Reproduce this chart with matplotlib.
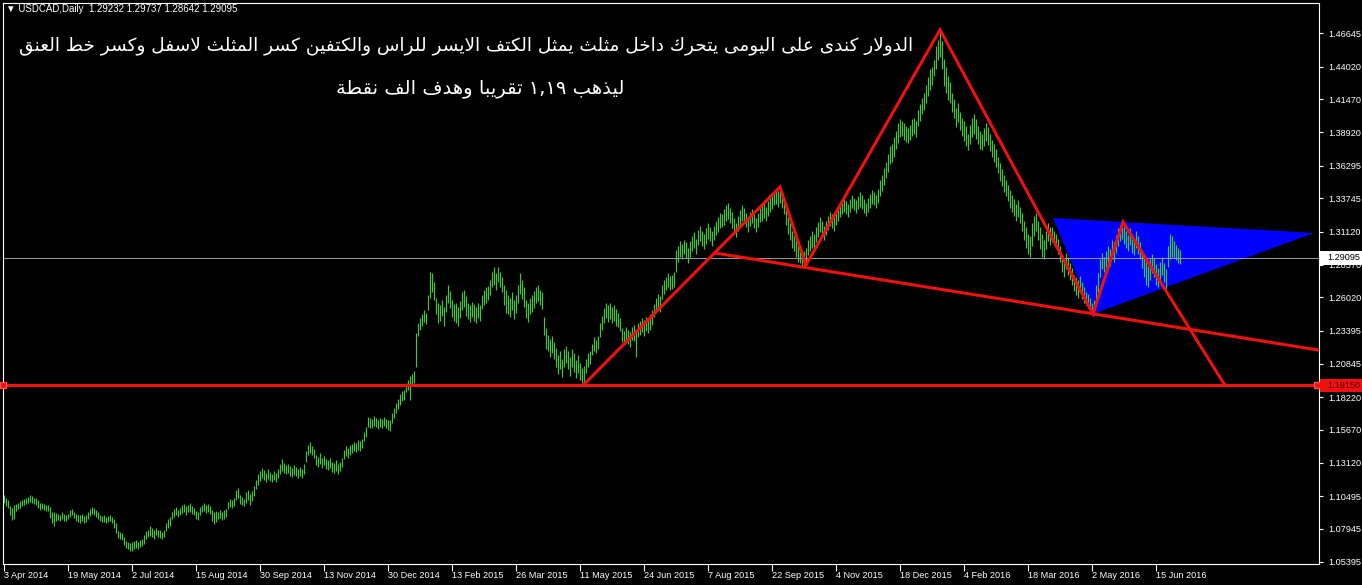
import numpy as np
import matplotlib
matplotlib.use("Agg")
import matplotlib.pyplot as plt
import matplotlib.transforms as mtransforms
from matplotlib.patches import Rectangle, Polygon

# daily bars (bar 0 = 3 Apr 2014), 10 bars per row
highs = [
  1.1056, 1.1033, 1.1018, 1.0970, 1.0955, 1.0978, 1.0990, 1.1000, 1.1010, 1.1020,
  1.1030, 1.1040, 1.1045, 1.1060, 1.1050, 1.1040, 1.1035, 1.1020, 1.0995, 1.1000,
  1.0990, 1.0985, 1.0980, 1.0965, 1.0925, 1.0930, 1.0920, 1.0915, 1.0905, 1.0925,
  1.0910, 1.0900, 1.0915, 1.0945, 1.0950, 1.0925, 1.0915, 1.0905, 1.0900, 1.0910,
  1.0895, 1.0905, 1.0925, 1.0950, 1.0965, 1.0955, 1.0940, 1.0925, 1.0905, 1.0895,
  1.0900, 1.0890, 1.0895, 1.0900, 1.0885, 1.0870, 1.0840, 1.0780, 1.0770, 1.0765,
  1.0730, 1.0700, 1.0695, 1.0685, 1.0690, 1.0700, 1.0705, 1.0690, 1.0710, 1.0715,
  1.0745, 1.0780, 1.0790, 1.0815, 1.0800, 1.0790, 1.0805, 1.0790, 1.0785, 1.0770,
  1.0790, 1.0840, 1.0870, 1.0885, 1.0930, 1.0950, 1.0965, 1.0945, 1.0960, 1.0980,
  1.0990, 1.0970, 1.0985, 1.0995, 1.0975, 1.0960, 1.0935, 1.0925, 1.0965, 1.0985,
  1.0995, 1.0980, 1.0990, 1.0970, 1.0945, 1.0925, 1.0935, 1.0930, 1.0945, 1.0925,
  1.0940, 1.0950, 1.1005, 1.1030, 1.1020, 1.1040, 1.1095, 1.1115, 1.1060, 1.1045,
  1.1030, 1.1080, 1.1100, 1.1065, 1.1090, 1.1130, 1.1180, 1.1220, 1.1245, 1.1270,
  1.1255, 1.1230, 1.1260, 1.1240, 1.1225, 1.1250, 1.1235, 1.1260, 1.1300, 1.1340,
  1.1310, 1.1290, 1.1300, 1.1285, 1.1270, 1.1290, 1.1280, 1.1265, 1.1280, 1.1260,
  1.1300, 1.1400, 1.1450, 1.1470, 1.1445, 1.1420, 1.1370, 1.1360, 1.1385, 1.1350,
  1.1365, 1.1340, 1.1330, 1.1345, 1.1320, 1.1310, 1.1330, 1.1300, 1.1320, 1.1350,
  1.1410, 1.1440, 1.1425, 1.1450, 1.1460, 1.1470, 1.1465, 1.1485, 1.1480, 1.1500,
  1.1555, 1.1590, 1.1670, 1.1660, 1.1650, 1.1675, 1.1660, 1.1645, 1.1660, 1.1650,
  1.1665, 1.1655, 1.1645, 1.1645, 1.1700, 1.1740, 1.1780, 1.1810, 1.1850, 1.1870,
  1.1880, 1.1935, 1.1960, 1.1990, 1.2000, 1.2030, 1.2323, 1.2400, 1.2440, 1.2470,
  1.2500, 1.2480, 1.2620, 1.2800, 1.2790, 1.2720, 1.2600, 1.2560, 1.2540, 1.2580,
  1.2530, 1.2620, 1.2700, 1.2650, 1.2580, 1.2550, 1.2560, 1.2530, 1.2575, 1.2640,
  1.2660, 1.2610, 1.2560, 1.2540, 1.2565, 1.2550, 1.2530, 1.2555, 1.2545, 1.2620,
  1.2660, 1.2680, 1.2690, 1.2740, 1.2800, 1.2835, 1.2790, 1.2840, 1.2800, 1.2760,
  1.2700, 1.2660, 1.2620, 1.2600, 1.2640, 1.2580, 1.2620, 1.2700, 1.2790, 1.2740,
  1.2680, 1.2580, 1.2560, 1.2600, 1.2620, 1.2650, 1.2680, 1.2700, 1.2660, 1.2640,
  1.2450, 1.2360, 1.2310, 1.2280, 1.2300, 1.2250, 1.2210, 1.2150, 1.2180, 1.2120,
  1.2200, 1.2220, 1.2180, 1.2140, 1.2200, 1.2170, 1.2110, 1.2150, 1.2090, 1.2050,
  1.2070, 1.2120, 1.2170, 1.2180, 1.2240, 1.2290, 1.2270, 1.2300, 1.2400, 1.2460,
  1.2520, 1.2560, 1.2540, 1.2560, 1.2530, 1.2545, 1.2510, 1.2480, 1.2440, 1.2360,
  1.2340, 1.2370, 1.2350, 1.2330, 1.2370, 1.2390, 1.2350, 1.2400, 1.2420, 1.2440,
  1.2425, 1.2450, 1.2430, 1.2470, 1.2500, 1.2550, 1.2600, 1.2630, 1.2610, 1.2700,
  1.2740, 1.2760, 1.2790, 1.2770, 1.2780, 1.2800, 1.2970, 1.3000, 1.3040, 1.3020,
  1.3050, 1.3030, 1.2990, 1.3040, 1.3080, 1.3110, 1.3060, 1.3130, 1.3160, 1.3120,
  1.3100, 1.3140, 1.3180, 1.3150, 1.3120, 1.3160, 1.3200, 1.3230, 1.3260, 1.3250,
  1.3290, 1.3320, 1.3340, 1.3300, 1.3270, 1.3220, 1.3180, 1.3240, 1.3280, 1.3320,
  1.3300, 1.3260, 1.3230, 1.3270, 1.3290, 1.3250, 1.3220, 1.3260, 1.3300, 1.3320,
  1.3340, 1.3310, 1.3350, 1.3380, 1.3400, 1.3420, 1.3440, 1.3430, 1.3460, 1.3420,
  1.3380, 1.3300, 1.3230, 1.3180, 1.3120, 1.3080, 1.3050, 1.3000, 1.2980, 1.2940,
  1.2960, 1.2990, 1.3050, 1.3080, 1.3120, 1.3100, 1.3150, 1.3190, 1.3230, 1.3200,
  1.3160, 1.3200, 1.3240, 1.3270, 1.3250, 1.3230, 1.3280, 1.3310, 1.3340, 1.3360,
  1.3380, 1.3350, 1.3330, 1.3370, 1.3400, 1.3380, 1.3360, 1.3390, 1.3420, 1.3400,
  1.3370, 1.3340, 1.3380, 1.3410, 1.3440, 1.3420, 1.3400, 1.3450, 1.3520, 1.3560,
  1.3610, 1.3660, 1.3720, 1.3780, 1.3800, 1.3850, 1.3900, 1.3960, 1.3990, 1.3980,
  1.3960, 1.3940, 1.3920, 1.3950, 1.3990, 1.4000, 1.3980, 1.4060, 1.4110, 1.4160,
  1.4200, 1.4260, 1.4320, 1.4380, 1.4400, 1.4450, 1.4560, 1.4610, 1.4690, 1.4600,
  1.4460, 1.4400, 1.4330, 1.4280, 1.4200, 1.4150, 1.4080, 1.4120, 1.4050, 1.4000,
  1.3980, 1.3940, 1.3880, 1.3950, 1.4000, 1.4030, 1.3990, 1.3940, 1.3900, 1.3880,
  1.3920, 1.3960, 1.3930, 1.3880, 1.3830, 1.3800, 1.3760, 1.3700, 1.3650, 1.3600,
  1.3560, 1.3520, 1.3480, 1.3440, 1.3400, 1.3370, 1.3330, 1.3360, 1.3310, 1.3260,
  1.3200, 1.3150, 1.3100, 1.3080, 1.3180, 1.3240, 1.3260, 1.3200, 1.3150, 1.3100,
  1.3050, 1.3120, 1.3180, 1.3150, 1.3150, 1.3120, 1.3100, 1.3060, 1.3000, 1.2930,
  1.2900, 1.2950, 1.2920, 1.2870, 1.2830, 1.2780, 1.2760, 1.2740, 1.2770, 1.2720,
  1.2680, 1.2640, 1.2630, 1.2600, 1.2560, 1.2580, 1.2700, 1.2790, 1.2900, 1.2950,
  1.2920, 1.2960, 1.3000, 1.2980, 1.3050, 1.3030, 1.3090, 1.3140, 1.3170, 1.3189,
  1.3150, 1.3120, 1.3090, 1.3140, 1.3100, 1.3060, 1.3120, 1.3080, 1.3030, 1.2970,
  1.2920, 1.2880, 1.2850, 1.2900, 1.2940, 1.2910, 1.2860, 1.2830, 1.2880, 1.2920,
  1.2870, 1.2820, 1.3000, 1.3100, 1.3080, 1.3040, 1.3010, 1.2990, 1.29737,
]

lows = [
  1.0994, 1.0970, 1.0955, 1.0900, 1.0866, 1.0876, 1.0935, 1.0950, 1.0960, 1.0975,
  1.0985, 1.0990, 1.0995, 1.1005, 1.0995, 1.0990, 1.0985, 1.0960, 1.0945, 1.0950,
  1.0940, 1.0935, 1.0935, 1.0880, 1.0845, 1.0815, 1.0860, 1.0865, 1.0860, 1.0870,
  1.0860, 1.0855, 1.0870, 1.0890, 1.0900, 1.0880, 1.0860, 1.0850, 1.0845, 1.0855,
  1.0840, 1.0850, 1.0870, 1.0895, 1.0910, 1.0900, 1.0885, 1.0870, 1.0855, 1.0850,
  1.0850, 1.0845, 1.0850, 1.0855, 1.0840, 1.0800, 1.0760, 1.0725, 1.0715, 1.0710,
  1.0670, 1.0645, 1.0635, 1.0625, 1.0620, 1.0640, 1.0650, 1.0635, 1.0655, 1.0660,
  1.0680, 1.0720, 1.0730, 1.0740, 1.0730, 1.0720, 1.0745, 1.0730, 1.0725, 1.0715,
  1.0735, 1.0775, 1.0800, 1.0820, 1.0870, 1.0890, 1.0905, 1.0890, 1.0900, 1.0920,
  1.0925, 1.0905, 1.0925, 1.0930, 1.0910, 1.0900, 1.0870, 1.0866, 1.0905, 1.0925,
  1.0935, 1.0920, 1.0930, 1.0915, 1.0860, 1.0830, 1.0850, 1.0870, 1.0880, 1.0866,
  1.0875, 1.0890, 1.0950, 1.0965, 1.0960, 1.0975, 1.1020, 1.1040, 1.0990, 1.0980,
  1.0970, 1.1000, 1.1020, 1.0985, 1.1010, 1.1050, 1.1110, 1.1140, 1.1170, 1.1190,
  1.1175, 1.1160, 1.1185, 1.1170, 1.1160, 1.1180, 1.1165, 1.1190, 1.1220, 1.1250,
  1.1230, 1.1220, 1.1230, 1.1210, 1.1200, 1.1215, 1.1205, 1.1190, 1.1210, 1.1190,
  1.1225, 1.1320, 1.1370, 1.1390, 1.1370, 1.1350, 1.1295, 1.1280, 1.1300, 1.1270,
  1.1290, 1.1265, 1.1255, 1.1270, 1.1240, 1.1230, 1.1250, 1.1225, 1.1245, 1.1275,
  1.1340, 1.1365, 1.1350, 1.1375, 1.1390, 1.1400, 1.1395, 1.1410, 1.1405, 1.1425,
  1.1480, 1.1510, 1.1590, 1.1585, 1.1580, 1.1600, 1.1590, 1.1575, 1.1590, 1.1580,
  1.1595, 1.1585, 1.1570, 1.1560, 1.1620, 1.1660, 1.1700, 1.1730, 1.1760, 1.1790,
  1.1800, 1.1860, 1.1880, 1.1800, 1.1915, 1.1930, 1.2058, 1.2300, 1.2350, 1.2380,
  1.2410, 1.2395, 1.2500, 1.2600, 1.2640, 1.2580, 1.2470, 1.2400, 1.2420, 1.2460,
  1.2380, 1.2490, 1.2560, 1.2520, 1.2450, 1.2420, 1.2400, 1.2375, 1.2440, 1.2500,
  1.2530, 1.2460, 1.2430, 1.2410, 1.2450, 1.2420, 1.2405, 1.2440, 1.2415, 1.2510,
  1.2540, 1.2560, 1.2580, 1.2620, 1.2680, 1.2700, 1.2660, 1.2720, 1.2680, 1.2640,
  1.2540, 1.2480, 1.2470, 1.2450, 1.2500, 1.2430, 1.2480, 1.2560, 1.2630, 1.2590,
  1.2530, 1.2440, 1.2410, 1.2470, 1.2490, 1.2520, 1.2560, 1.2570, 1.2540, 1.2510,
  1.2310, 1.2200, 1.2180, 1.2140, 1.2170, 1.2120, 1.2060, 1.2000, 1.2040, 1.1980,
  1.2060, 1.2090, 1.2040, 1.1990, 1.2060, 1.2020, 1.1970, 1.2010, 1.1960, 1.1930,
  1.1940, 1.2010, 1.2060, 1.2080, 1.2150, 1.2180, 1.2170, 1.2200, 1.2290, 1.2350,
  1.2400, 1.2440, 1.2410, 1.2430, 1.2400, 1.2420, 1.2380, 1.2370, 1.2340, 1.2250,
  1.2230, 1.2260, 1.2240, 1.2215, 1.2270, 1.2260, 1.2140, 1.2290, 1.2310, 1.2330,
  1.2300, 1.2340, 1.2320, 1.2350, 1.2390, 1.2450, 1.2480, 1.2510, 1.2490, 1.2590,
  1.2630, 1.2660, 1.2680, 1.2660, 1.2670, 1.2680, 1.2800, 1.2880, 1.2920, 1.2900,
  1.2940, 1.2910, 1.2870, 1.2920, 1.2960, 1.2990, 1.2940, 1.3010, 1.3040, 1.3000,
  1.2980, 1.3020, 1.3060, 1.3040, 1.3000, 1.3050, 1.3090, 1.3110, 1.3140, 1.3150,
  1.3170, 1.3200, 1.3210, 1.3180, 1.3140, 1.3100, 1.3070, 1.3120, 1.3160, 1.3200,
  1.3190, 1.3150, 1.3110, 1.3160, 1.3180, 1.3140, 1.3110, 1.3150, 1.3190, 1.3200,
  1.3220, 1.3200, 1.3240, 1.3270, 1.3290, 1.3320, 1.3330, 1.3310, 1.3340, 1.3300,
  1.3250, 1.3170, 1.3100, 1.3050, 1.2990, 1.2960, 1.2920, 1.2880, 1.2870, 1.2850,
  1.2835, 1.2870, 1.2930, 1.2960, 1.2990, 1.2980, 1.3030, 1.3070, 1.3110, 1.3080,
  1.3050, 1.3090, 1.3130, 1.3160, 1.3140, 1.3120, 1.3170, 1.3200, 1.3230, 1.3250,
  1.3270, 1.3250, 1.3230, 1.3270, 1.3300, 1.3280, 1.3260, 1.3290, 1.3310, 1.3290,
  1.3260, 1.3240, 1.3270, 1.3300, 1.3330, 1.3320, 1.3300, 1.3340, 1.3390, 1.3430,
  1.3480, 1.3530, 1.3580, 1.3640, 1.3660, 1.3700, 1.3760, 1.3810, 1.3850, 1.3860,
  1.3830, 1.3815, 1.3810, 1.3830, 1.3860, 1.3880, 1.3850, 1.3940, 1.3980, 1.4030,
  1.4060, 1.4120, 1.4170, 1.4220, 1.4260, 1.4330, 1.4380, 1.4450, 1.4480, 1.4380,
  1.4250, 1.4200, 1.4140, 1.4120, 1.4050, 1.4000, 1.3930, 1.3970, 1.3910, 1.3860,
  1.3820, 1.3780, 1.3750, 1.3800, 1.3850, 1.3880, 1.3840, 1.3800, 1.3760, 1.3750,
  1.3780, 1.3820, 1.3790, 1.3740, 1.3700, 1.3660, 1.3620, 1.3570, 1.3510, 1.3470,
  1.3420, 1.3390, 1.3350, 1.3300, 1.3270, 1.3240, 1.3200, 1.3230, 1.3180, 1.3120,
  1.3050, 1.2990, 1.2940, 1.2920, 1.3000, 1.3080, 1.3120, 1.3050, 1.2980, 1.2920,
  1.2900, 1.2980, 1.3040, 1.3010, 1.3030, 1.3010, 1.2990, 1.2940, 1.2880, 1.2800,
  1.2760, 1.2820, 1.2780, 1.2740, 1.2700, 1.2650, 1.2620, 1.2600, 1.2640, 1.2590,
  1.2560, 1.2540, 1.2520, 1.2490, 1.2470, 1.2461, 1.2540, 1.2640, 1.2760, 1.2820,
  1.2800, 1.2840, 1.2870, 1.2850, 1.2900, 1.2880, 1.2950, 1.3000, 1.3040, 1.3060,
  1.3020, 1.2990, 1.2960, 1.3010, 1.2950, 1.2930, 1.2990, 1.2940, 1.2900, 1.2830,
  1.2760, 1.2700, 1.2680, 1.2740, 1.2790, 1.2760, 1.2700, 1.2680, 1.2730, 1.2780,
  1.2720, 1.2650, 1.2840, 1.2900, 1.2920, 1.2910, 1.2890, 1.2870, 1.28642,
]

# bottom axis labels, one every 32 bars
date_labels = ["3 Apr 2014", "19 May 2014", "2 Jul 2014", "15 Aug 2014", "30 Sep 2014",
               "13 Nov 2014", "30 Dec 2014", "13 Feb 2015", "26 Mar 2015", "11 May 2015",
               "24 Jun 2015", "7 Aug 2015", "22 Sep 2015", "4 Nov 2015", "18 Dec 2015",
               "4 Feb 2016", "18 Mar 2016", "2 May 2016", "15 Jun 2016"]
label_step = 32

# price scale labels
price_ticks = [1.46645, 1.44020, 1.41470, 1.38920, 1.36295, 1.33745, 1.31120, 1.28570,
               1.26020, 1.23395, 1.20845, 1.18220, 1.15670, 1.13120, 1.10495, 1.07945,
               1.05395]

bid_price = 1.29095
target_price = 1.19150

# drawn objects: (bar index, price)
zigzag_idx = [289.5, 388, 401, 468, 544.5, 559.5, 610.5]
zigzag_px = [1.19150, 1.3463, 1.2854, 1.4690, 1.2472, 1.3190, 1.19150]
neck_idx = [355.5, 657.5]
neck_px = [1.2948, 1.2190]
tri_idx = [524.5, 655, 544.5]
tri_px = [1.3221, 1.3104, 1.2472]

header = "\u25bc USDCAD,Daily  1.29232 1.29737 1.28642 1.29095"
note_line1 = "الدولار كندى على اليومى يتحرك داخل مثلث يمثل الكتف الايسر للراس والكتفين كسر المثلث لاسفل وكسر خط العنق"
note_line2 = "ليذهب ١,١٩ تقريبا وهدف الف نقطة"


# --- minimal arabic shaping (matplotlib has no complex text layout) ---
DUAL = {'ئ': 0xFE89, 'ب': 0xFE8F, 'ت': 0xFE95, 'ث': 0xFE99, 'ج': 0xFE9D, 'ح': 0xFEA1,
        'خ': 0xFEA5, 'س': 0xFEB1, 'ش': 0xFEB5, 'ص': 0xFEB9, 'ض': 0xFEBD, 'ط': 0xFEC1,
        'ظ': 0xFEC5, 'ع': 0xFEC9, 'غ': 0xFECD, 'ف': 0xFED1, 'ق': 0xFED5, 'ك': 0xFED9,
        'ل': 0xFEDD, 'م': 0xFEE1, 'ن': 0xFEE5, 'ه': 0xFEE9, 'ي': 0xFEF1}
RIGHT = {'آ': 0xFE81, 'أ': 0xFE83, 'ؤ': 0xFE85, 'إ': 0xFE87, 'ا': 0xFE8D, 'ة': 0xFE93,
         'د': 0xFEA9, 'ذ': 0xFEAB, 'ر': 0xFEAD, 'ز': 0xFEAF, 'و': 0xFEED, 'ى': 0xFEEF}
LAM_ALEF = {'ا': 0xFEFB, 'أ': 0xFEF7, 'إ': 0xFEF9, 'آ': 0xFEF5}


def shape_word(word):
  out = []
  link = False
  i = 0
  while i < len(word):
    c = word[i]
    nxt = word[i + 1] if i + 1 < len(word) else ''
    if c == 'ل' and nxt in LAM_ALEF:
      out.append(chr(LAM_ALEF[nxt] + (1 if link else 0)))
      link = False
      i += 2
      continue
    if c in DUAL:
      base = DUAL[c]
      joins = nxt in DUAL or nxt in RIGHT
      if link and joins:
        code = base + 3
      elif link:
        code = base + 1
      elif joins:
        code = base + 2
      else:
        code = base
      out.append(chr(code))
      link = joins
    elif c in RIGHT:
      out.append(chr(RIGHT[c] + (1 if link else 0)))
      link = False
    else:
      out.append(c)
      link = False
    i += 1
  return ''.join(out)


def visual(text):
  words = []
  for w in text.split(' '):
    if any(ch in '٠١٢٣٤٥٦٧٨٩0123456789' for ch in w):
      words.append(w)
    else:
      words.append(shape_word(w)[::-1])
  return ' '.join(reversed(words))


W, H = 1362, 585
fig = plt.figure(figsize=(W / 100, H / 100), dpi=100, facecolor='black')
ax = fig.add_axes([3 / W, 21 / H, 1316 / W, 561 / H], facecolor='black')

n = len(highs)
x = np.arange(n)
ymin, ymax = 1.05213, 1.48986
ax.set_xlim(-0.5, 657.5)
ax.set_ylim(ymin, ymax)

small = ['Liberation Sans', 'DejaVu Sans']
fs = 6.6

# trendline objects
ax.add_patch(Polygon(np.column_stack([tri_idx, tri_px]), closed=True,
                     facecolor='#0000ff', edgecolor='none', zorder=1))
ax.vlines(x, lows, highs, color='#40c83a', linewidth=0.85, zorder=2)
ax.axhline(bid_price, color='#9a9aa8', linewidth=0.7, zorder=2.5)
ax.axhline(target_price, color='#f01010', linewidth=2.2, zorder=3)
ax.plot([-0.3, 656.3], [target_price, target_price], 's', color='#f01010',
        markersize=4, markeredgecolor='#ff5050', clip_on=False, zorder=3)
ax.plot(zigzag_idx, zigzag_px, color='#f01010', linewidth=2.2, zorder=3,
        solid_joinstyle='miter')
ax.plot(neck_idx, neck_px, color='#f01010', linewidth=2.2, zorder=3)

for s in ax.spines.values():
  s.set_color('white')
  s.set_linewidth(0.8)

ax.yaxis.tick_right()
ax.set_yticks(price_ticks)
ax.set_yticklabels(['%.5f' % p for p in price_ticks], family=small)
ax.tick_params(axis='y', colors='white', length=3, width=0.8, pad=4, labelsize=fs)

ax.set_xticks(np.arange(len(date_labels)) * label_step)
ax.set_xticklabels(date_labels, family=small, ha='left')
ax.tick_params(axis='x', colors='white', length=5, width=0.8, pad=0, labelsize=fs)

# price boxes on the scale
blend = mtransforms.blended_transform_factory(fig.transFigure, ax.transData)
for price, fc, tc in [(bid_price, 'white', 'black'), (target_price, '#f01010', '#500000')]:
  fig.add_artist(Rectangle((1320 / W, price - 0.0052), 42 / W, 0.0104, transform=blend,
                           facecolor=fc, edgecolor='none', zorder=5))
  fig.text(1327 / W, price, '%.5f' % price, transform=blend, color=tc, fontsize=fs,
           va='center', ha='left', family=small, zorder=6)

fig.text(6 / W, 1 - 9 / H, header, color='white', fontsize=7, va='center', ha='left',
         family=small)

fig.text(466 / W, 1 - 46 / H, visual(note_line1), color='white', fontsize=13.3,
         va='center', ha='center', family=['DejaVu Sans'])
fig.text(480 / W, 1 - 88 / H, visual(note_line2), color='white', fontsize=14,
         va='center', ha='center', family=['DejaVu Sans'])

fig.savefig('out.png', dpi=100, facecolor='black')
